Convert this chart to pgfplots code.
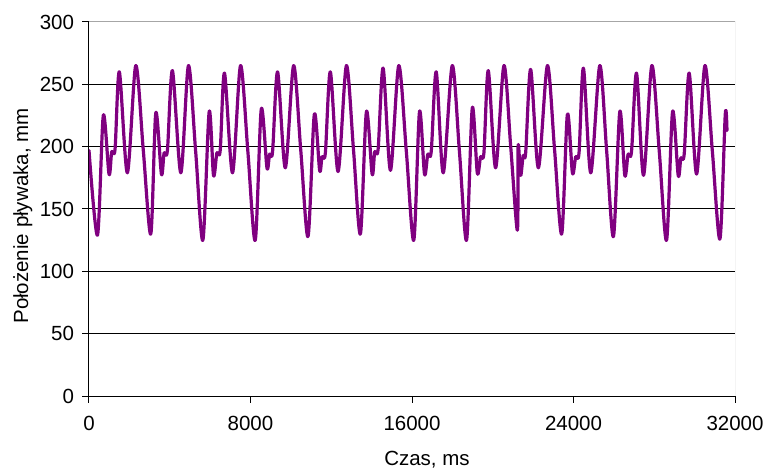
\documentclass[border=0pt]{standalone}
\usepackage{fontspec}
\setmainfont{Liberation Sans}
\usepackage{pgfplots}
\pgfplotsset{compat=1.18}
\definecolor{plum}{RGB}{128,0,128}
\newcommand{\chartfont}{\fontsize{20.5}{24}\selectfont}
\begin{document}
\begin{tikzpicture}
\begin{axis}[
  scale only axis, width=646pt, height=374pt,
  xmin=0, xmax=32000, ymin=0, ymax=300,
  xtick={0,8000,16000,24000,32000}, ytick={0,50,...,300},
  scaled x ticks=false,
  /pgf/number format/assume math mode=true,
  /pgf/number format/1000 sep={},
  tick label style={font=\chartfont},
  xticklabel style={yshift=-10pt},
  yticklabel style={xshift=-5pt},
  label style={font=\chartfont},
  axis x line*=bottom, axis y line*=left,
  axis line style={black, line width=1pt, -},
  ymajorgrids, major grid style={black, line width=1pt},
  tick align=outside, major tick length=6.5pt,
  tick style={black, line width=1pt},
  xlabel={Czas, ms}, ylabel={Położenie pływaka, mm},
  xlabel style={at={(axis description cs:0.5232,-0.1845)}, anchor=base},
  ylabel style={at={(axis description cs:-0.0944,0.4813)}, anchor=base, rotate=0},
  clip=true,
]
\draw[gray!70, line width=1pt] (rel axis cs:0,1) -- (rel axis cs:1,1) -- (rel axis cs:1,0);
\addplot[plum, line width=3.2pt, smooth, tension=0.5, line join=round, line cap=round] table {
t v
0 197
420 129
709 225
992 178
1126 196
1290 198
1503 260
1900 179
2317 265
2690 197
3061 130
3309 227
3587 178
3721 195
3884 197
4133 261
4549 179
4926 265
5284 196
5641 125
5953 228
6167 177
6335 195
6499 197
6712 259
7109 179
7506 265
7870 196
8235 125
8533 230
8816 183
8945 194
9093 196
9342 260
9724 183
10135 265
10490 197
10850 128
11162 226
11425 181
11544 192
11708 195
11956 260
12338 180
12750 265
13100 198
13444 130
13742 228
14025 178
14154 196
14322 198
14570 263
14933 181
15344 265
15720 196
16089 125
16371 228
16619 178
16783 194
16952 196
17200 260
17547 179
17993 265
18350 196
18703 125
18986 231
19234 179
19397 192
19562 195
19779 261
20142 183
20554 265
20890 200
21218 133
21258 201
21382 177
21506 193
21630 195
21878 262
22260 183
22707 265
23060 198
23416 130
23698 226
23946 179
24110 192
24274 195
24492 263
24855 179
25301 265
25640 197
25980 128
26293 228
26541 177
26705 194
26874 196
27122 259
27469 177
27881 265
28250 196
28610 125
28907 228
29186 177
29319 191
29483 194
29731 259
30098 178
30510 265
30880 196
31254 126
31518 226
31602 213
};
\end{axis}
\pgfresetboundingbox
\path ([shift={(-89pt,-72pt)}]current axis.south west) rectangle ([shift={(32pt,22pt)}]current axis.north east);
\end{tikzpicture}
\end{document}
